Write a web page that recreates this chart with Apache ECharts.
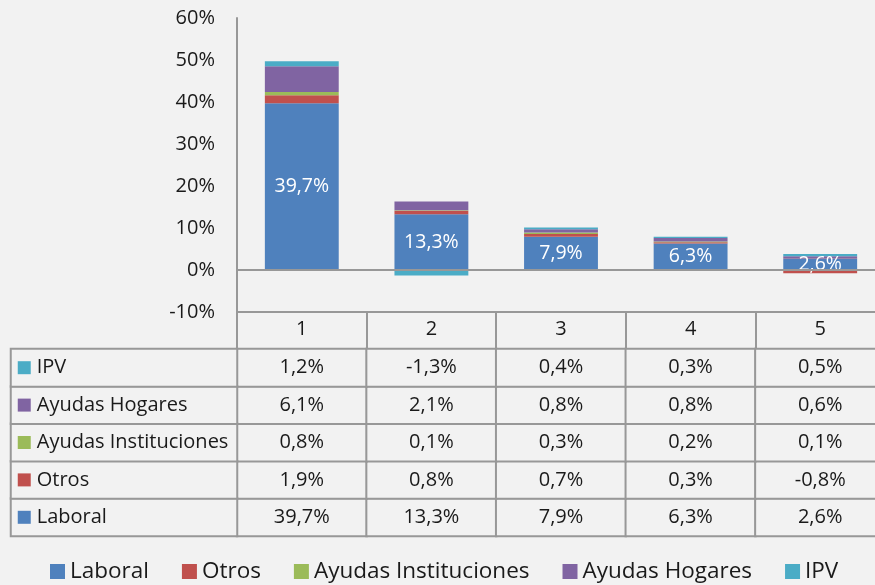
<!DOCTYPE html>
<html>
<head>
<meta charset="utf-8">
<script src="https://cdn.jsdelivr.net/npm/echarts@6/dist/echarts.min.js"></script>
<style>
  html, body { margin: 0; padding: 0; background: #f2f2f2; }
  #chart { width: 875px; height: 585px; }
</style>
</head>
<body>
<div id="chart"></div>
<script>
// Categories (columns) and the five stacked components, in percent
const categories = ['1', '2', '3', '4', '5'];
const seriesNames = ['Laboral', 'Otros', 'Ayudas Instituciones', 'Ayudas Hogares', 'IPV'];
const laboral = [39.7, 13.3, 7.9, 6.3, 2.6];
const otros = [1.9, 0.8, 0.7, 0.3, -0.8];
const ayudasInstituciones = [0.8, 0.1, 0.3, 0.2, 0.1];
const ayudasHogares = [6.1, 2.1, 0.8, 0.8, 0.6];
const ipv = [1.2, -1.3, 0.4, 0.3, 0.5];
// Value axis range (percent)
const yMin = -10, yMax = 60, yStep = 10;

const seriesValues = [laboral, otros, ayudasInstituciones, ayudasHogares, ipv];
const colors = ['#4f81bd', '#c0504d', '#9bbb59', '#8064a2', '#4bacc6'];
const FONT = 'Open Sans';
const TXT = '#1a1a1a';
const LINE = '#989898';

const fmt = v => v.toFixed(1).replace('.', ',') + '%';

// Stacked bars on the main grid
const barSeries = seriesNames.map((name, i) => ({
  name: name,
  type: 'bar',
  stack: 'total',
  xAxisIndex: 0,
  yAxisIndex: 0,
  barCategoryGap: '43%',
  itemStyle: { color: colors[i] },
  emphasis: { disabled: true },
  data: seriesValues[i],
  label: i === 0 ? {
    show: true,
    position: 'inside',
    color: '#ffffff',
    fontFamily: FONT,
    fontSize: 19.5,
    formatter: p => fmt(p.value)
  } : { show: false },
  markLine: i === 0 ? {
    silent: true,
    symbol: ['none', 'none'],
    label: { show: false },
    lineStyle: { color: LINE, width: 2, type: 'solid' },
    data: [{ yAxis: 0 }],
    z: 10
  } : undefined
}));

// Data table cells: one cell per (column, component)
const cellData = [];
seriesValues.forEach((vals, row) => {
  vals.forEach((v, col) => cellData.push([col, row, v]));
});

// Row header cells: colour key plus component name
const rich = { t: { fontFamily: FONT, fontSize: 20, color: TXT, padding: [0, 0, 0, 6] } };
colors.forEach((c, i) => {
  rich['k' + i] = { width: 13, height: 13, backgroundColor: c };
});
const headerData = seriesNames.map((n, i) => [0, i, i]);

const cellStyle = { color: '#f2f2f2', borderColor: LINE, borderWidth: 2 };
// The table runs past the right edge of the page, so grids are not clamped
const gridBase = { outerBoundsMode: 'none', containLabel: false };

const option = {
  backgroundColor: '#f2f2f2',
  animation: false,
  textStyle: { fontFamily: FONT, color: TXT },
  legend: {
    left: 50,
    top: 560,
    padding: 0,
    icon: 'rect',
    itemWidth: 15,
    itemHeight: 15,
    itemGap: 33,
    itemTextGap: 6,
    data: seriesNames,
    textStyle: { fontFamily: FONT, fontSize: 22.5, color: TXT }
  },
  grid: [
    Object.assign({ left: 237, top: 18, width: 648, height: 294 }, gridBase),
    Object.assign({ left: 237, top: 349, width: 648, height: 187 }, gridBase),
    Object.assign({ left: 11, top: 349, width: 226, height: 187 }, gridBase)
  ],
  xAxis: [
    {
      gridIndex: 0,
      type: 'category',
      data: categories,
      axisLine: { onZero: false, lineStyle: { color: LINE, width: 2 } },
      axisTick: { show: true, length: 37, interval: 0, lineStyle: { color: LINE, width: 2 } },
      axisLabel: { margin: 7, fontFamily: FONT, fontSize: 20, color: TXT }
    },
    { gridIndex: 1, type: 'category', data: categories, show: false },
    { gridIndex: 2, type: 'category', data: [''], show: false }
  ],
  yAxis: [
    {
      gridIndex: 0,
      type: 'value',
      min: yMin,
      max: yMax,
      interval: yStep,
      axisLine: { show: true, lineStyle: { color: LINE, width: 2 } },
      axisTick: { show: false },
      splitLine: { show: false },
      axisLabel: { margin: 22, fontFamily: FONT, fontSize: 20, color: TXT, formatter: v => v + '%' }
    },
    { gridIndex: 1, type: 'category', data: seriesNames, show: false },
    { gridIndex: 2, type: 'category', data: seriesNames, show: false }
  ],
  series: barSeries.concat([
    {
      type: 'heatmap',
      xAxisIndex: 1,
      yAxisIndex: 1,
      data: cellData,
      itemStyle: cellStyle,
      emphasis: { disabled: true },
      silent: true,
      label: {
        show: true,
        fontFamily: FONT,
        fontSize: 20,
        color: TXT,
        formatter: p => fmt(p.value[2])
      }
    },
    {
      type: 'heatmap',
      xAxisIndex: 2,
      yAxisIndex: 2,
      data: headerData,
      itemStyle: cellStyle,
      emphasis: { disabled: true },
      silent: true,
      label: {
        show: true,
        position: 'insideLeft',
        distance: 8,
        rich: rich,
        formatter: p => '{k' + p.value[2] + '|}{t|' + seriesNames[p.value[2]] + '}'
      }
    }
  ])
};

const chart = echarts.init(document.getElementById('chart'), null, { renderer: 'canvas' });
chart.setOption(option);
</script>
</body>
</html>
